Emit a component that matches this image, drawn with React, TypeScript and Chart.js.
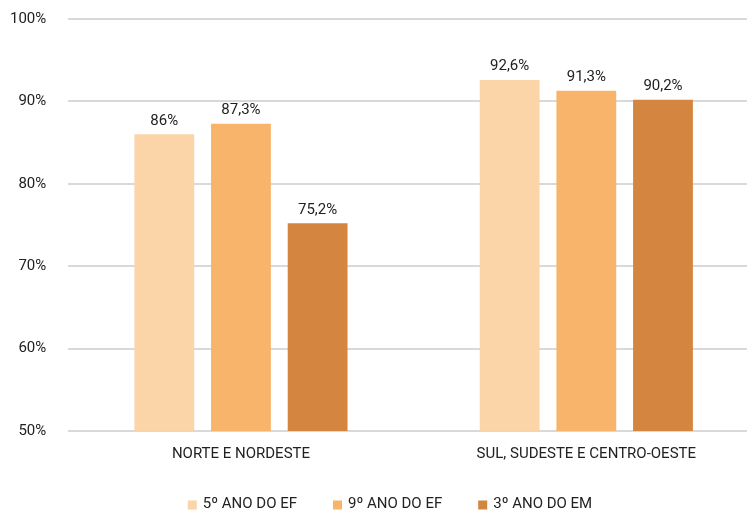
import React, { useEffect, useRef } from "react";
import { Chart, registerables } from "chart.js";

Chart.register(...registerables);

const categories = ["NORTE E NORDESTE", "SUL, SUDESTE E CENTRO-OESTE"];
const seriesNames = ["5º ANO DO EF", "9º ANO DO EF", "3º ANO DO EM"];
const ano5 = [86, 92.6];
const ano9 = [87.3, 91.3];
const ano3em = [75.2, 90.2];
const colors = ["#FBD4A8", "#F7B46A", "#D4853F"];
const yTicks = [50, 60, 70, 80, 90, 100];

const FONT = "Roboto, 'Open Sans', sans-serif";
const TEXT = "#222222";

const fmt = (v: number) => String(v).replace(".", ",") + "%";

const labelPlugin = {
  id: "barLabels",
  afterDatasetsDraw(chart: any) {
    const ctx = chart.ctx;
    ctx.save();
    ctx.font = `15px ${FONT}`;
    ctx.fillStyle = TEXT;
    ctx.textAlign = "center";
    ctx.textBaseline = "bottom";
    chart.data.datasets.forEach((ds: any, i: number) => {
      const meta = chart.getDatasetMeta(i);
      meta.data.forEach((el: any, j: number) => {
        ctx.fillText(fmt(ds.data[j]), el.x, el.y - 6);
      });
    });
    ctx.restore();
  },
};

const legendPlugin = {
  id: "customLegend",
  afterDraw(chart: any) {
    const ctx = chart.ctx;
    ctx.save();
    ctx.font = `15px ${FONT}`;
    const box = 9;
    const gapBoxText = 6;
    const gapItems = 36;
    const widths = seriesNames.map((n) => box + gapBoxText + ctx.measureText(n).width);
    const total = widths.reduce((a, b) => a + b, 0) + gapItems * (widths.length - 1);
    let x = 390 - total / 2;
    const yc = 504;
    ctx.textBaseline = "middle";
    ctx.textAlign = "left";
    seriesNames.forEach((n, i) => {
      ctx.fillStyle = colors[i];
      ctx.fillRect(x, yc - box / 2 + 1, box, box);
      ctx.fillStyle = TEXT;
      ctx.fillText(n, x + box + gapBoxText, yc);
      x += widths[i] + gapItems;
    });
    ctx.restore();
  },
};

export default function App() {
  const ref = useRef<HTMLCanvasElement | null>(null);
  useEffect(() => {
    document.body.style.margin = "0";
    const data = [ano5, ano9, ano3em];
    const chart = new Chart(ref.current!, {
      type: "bar",
      data: {
        labels: categories,
        datasets: seriesNames.map((n, i) => ({
          label: n,
          data: data[i],
          backgroundColor: colors[i],
          categoryPercentage: 0.666,
          barPercentage: 0.78,
        })),
      },
      options: {
        animation: false,
        responsive: false,
        maintainAspectRatio: false,
        layout: { padding: { top: 19, right: 0, left: -12, bottom: 44 } },
        plugins: {
          tooltip: { enabled: false },
          legend: { display: false },
        },
        scales: {
          x: {
            grid: { display: false },
            border: { display: false },
            ticks: {
              font: { family: FONT, size: 15 },
              color: TEXT,
              padding: 6,
            },
          },
          y: {
            min: 50,
            max: 100,
            afterBuildTicks: (axis: any) => {
              axis.ticks = yTicks.map((v) => ({ value: v }));
            },
            afterFit: (axis: any) => {
              axis.paddingTop = 0;
              axis.paddingBottom = 0;
            },
            grid: { color: "#D9D9D9", lineWidth: 2, drawTicks: false },
            border: { display: false },
            ticks: {
              font: { family: FONT, size: 15 },
              color: TEXT,
              padding: 22,
              callback: (v: any) => v + "%",
            },
          },
        },
      },
      plugins: [labelPlugin, legendPlugin],
    });
    return () => chart.destroy();
  }, []);
  return (
    <div style={{ width: 747, height: 513, overflow: "hidden" }}>
      <canvas ref={ref} width={759} height={513} style={{ display: "block" }} />
    </div>
  );
}
